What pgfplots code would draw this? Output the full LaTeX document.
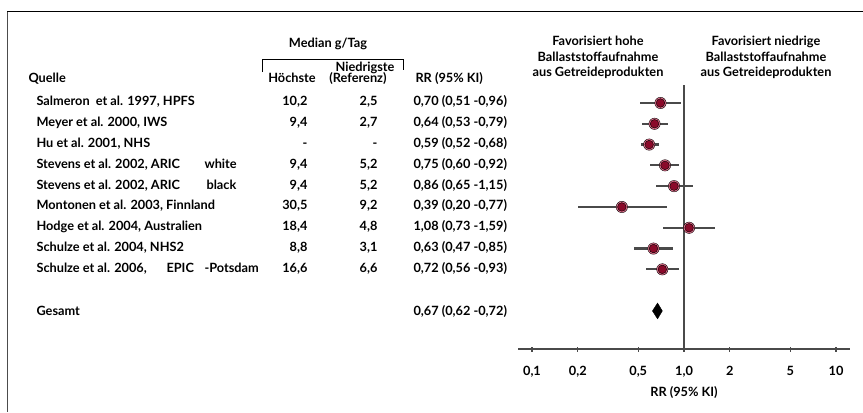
\documentclass[border=0pt]{standalone}
\usepackage{fontspec}
\setmainfont{Lato}
\usepackage{pgfplots}
\usepackage{pgfplotstable}
\pgfplotsset{compat=1.18}

\definecolor{dotred}{HTML}{8A0A2A}
\definecolor{halo}{HTML}{E0708C}
\definecolor{cigray}{HTML}{4A4A4A}

% r = Zeile, rr = relatives Risiko, lo/hi = 95%-KI
\pgfplotstableread{
r rr lo hi
0 0.70 0.51 0.96
1 0.64 0.53 0.79
2 0.59 0.52 0.68
3 0.75 0.60 0.92
4 0.86 0.65 1.15
5 0.39 0.20 0.77
6 1.08 0.73 1.59
7 0.63 0.47 0.85
8 0.72 0.56 0.93
}\studies

\newcommand{\rowy}[1]{412-103-20.875*#1}
\newcommand{\lab}{\fontsize{12.8}{15}\selectfont\bfseries}

\begin{document}
\begin{tikzpicture}[font=\lab]
\begin{scope}[x=1bp,y=1bp]
\path[use as bounding box] (0,0) rectangle (863,412);

% Rahmen
\draw[black, line width=1bp] (7,412-12) -- (863,412-12);
\draw[gray!60!black, line width=1.6bp] (7.5,412-12) -- (7.5,0);

% Kopfzeilen
\node[anchor=mid] at (328,412-45) {Median g/Tag};
\draw[line width=0.8bp] (262,412-72) -- (262,412-59) -- (403,412-59) -- (403,412-70);
\node[anchor=mid] at (365,412-69) {Niedrigste};
\node[anchor=mid west] at (25,412-80) {Quelle};
\node[anchor=mid] at (292,412-80) {Höchste};
\node[anchor=mid] at (358,412-80) {(Referenz)};
\node[anchor=mid west] at (412,412-80) {RR (95\% KI)};

\node[anchor=mid] at (598,412-43) {Favorisiert hohe};
\node[anchor=mid] at (598,412-58.5) {Ballaststoffaufnahme};
\node[anchor=mid] at (598,412-74) {aus Getreideprodukten};
\node[anchor=mid] at (766,412-43) {Favorisiert niedrige};
\node[anchor=mid] at (766,412-58.5) {Ballaststoffaufnahme};
\node[anchor=mid] at (766,412-74) {aus Getreideprodukten};

% Studien
\foreach \i/\name/\hi/\lo/\rr in {
  0/{Salmeron\ \ et al. 1997, HPFS}/{10,2}/{2,5}/{0,70 (0,51 -0,96)},
  1/{Meyer et al. 2000, IWS}/{9,4}/{2,7}/{0,64 (0,53 -0,79)},
  2/{Hu et al. 2001, NHS}/{-}/{-}/{0,59 (0,52 -0,68)},
  3/{Stevens et al. 2002, ARIC}/{9,4}/{5,2}/{0,75 (0,60 -0,92)},
  4/{Stevens et al. 2002, ARIC}/{9,4}/{5,2}/{0,86 (0,65 -1,15)},
  5/{Montonen et al. 2003, Finnland}/{30,5}/{9,2}/{0,39 (0,20 -0,77)},
  6/{Hodge et al. 2004, Australien}/{18,4}/{4,8}/{1,08 (0,73 -1,59)},
  7/{Schulze et al. 2004, NHS2}/{8,8}/{3,1}/{0,63 (0,47 -0,85)},
  8/{Schulze et al. 2006,}/{16,6}/{6,6}/{0,72 (0,56 -0,93)}} {
  \node[anchor=mid west] at (33,\rowy{\i}) {\name};
  \node[anchor=mid east] at (311,\rowy{\i}) {\hi};
  \node[anchor=mid east] at (381,\rowy{\i}) {\lo};
  \node[anchor=mid west] at (410,\rowy{\i}) {\rr};
}
\node[anchor=mid west] at (201,\rowy{3}) {white};
\node[anchor=mid west] at (203,\rowy{4}) {black};
\node[anchor=mid west] at (163,\rowy{8}) {EPIC};
\node[anchor=mid west] at (201,\rowy{8}) {-Potsdam};
\node[anchor=mid west] at (33,412-313) {Gesamt};
\node[anchor=mid west] at (410,412-313) {0,67 (0,62 -0,72)};
\end{scope}

\begin{axis}[
  at={(518bp,63bp)}, anchor=south west,
  scale only axis, width=332bp, height=264bp,
  xmode=log, xmin=0.0809, xmax=12.36,
  ymin=-11.83, ymax=0.865,
  axis x line=bottom, axis y line=none,
  x axis line style={-, line width=1.4bp, cigray},
  xtick={0.1,0.2,0.5,1,2,5,10},
  xticklabels={{0,1},{0,2},{0,5},{1,0},2,5,10},
  minor xtick={},
  tick align=center, major tick length=5bp,
  tick style={line width=1.4bp, cigray},
  xticklabel style={font=\lab, yshift=-11bp},
  xlabel={RR (95\% KI)},
  xlabel style={font=\lab, yshift=-2bp},
  clip=false,
]
\draw[cigray, line width=1.4bp] (axis cs:1,-11.83) -- (axis cs:1,0.865);

\addplot[draw=none, mark=none,
  error bars/.cd, x dir=both, x explicit, error mark=none,
  error bar style={cigray, line width=2.2bp}]
  table[x=rr, y expr=-\thisrow{r},
        x error plus expr=\thisrow{hi}-\thisrow{rr},
        x error minus expr=\thisrow{rr}-\thisrow{lo}] {\studies};

% weicher Hof um die Punkte
\addplot[only marks, mark=*, mark size=5.7bp,
  mark options={fill=halo, draw=none}]
  table[x=rr, y expr=-\thisrow{r}] {\studies};
\addplot[only marks, mark=*, mark size=4.3bp,
  mark options={fill=dotred, draw=none}]
  table[x=rr, y expr=-\thisrow{r}] {\studies};

% Gesamt: Raute von 0,62 bis 0,72
\addplot[fill=black, draw=black] coordinates {
  (0.62,-10) (0.67,-9.62) (0.72,-10) (0.67,-10.38) (0.62,-10)};
\end{axis}
\end{tikzpicture}
\end{document}
